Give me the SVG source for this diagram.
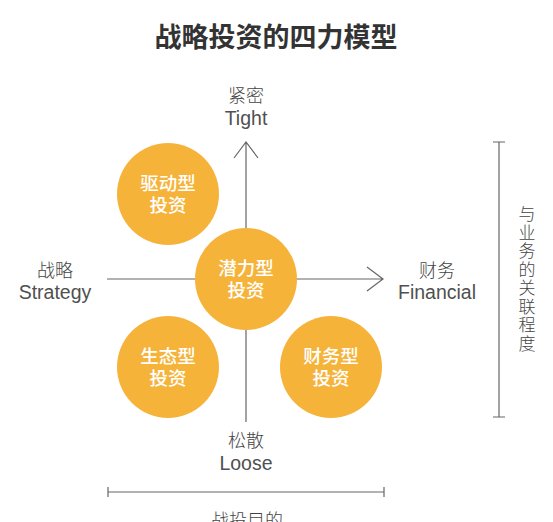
<svg xmlns="http://www.w3.org/2000/svg" width="553" height="522" viewBox="0 0 553 522">
<style>
.t{font-family:"Noto Sans CJK SC","Liberation Sans",sans-serif;fill:#333;text-anchor:middle}
.lbl{font-family:"Liberation Sans","Noto Sans CJK SC",sans-serif;fill:#505050;text-anchor:middle;font-size:19.5px}
.cn{font-family:"Noto Sans CJK SC",sans-serif;fill:#444;text-anchor:middle;font-size:18px;font-weight:300}
.circ{fill:#F6B33A}
.ct{font-family:"Noto Sans CJK SC",sans-serif;fill:#fff;text-anchor:middle;font-size:18.5px;font-weight:500}
.ax{stroke:#666;stroke-width:1.2;fill:none}
.br{stroke:#666;stroke-width:1.2;fill:none}
</style>
<rect width="553" height="522" fill="#fff"/>
<text class="t" x="276" y="47" font-size="27" font-weight="bold">战略投资的四力模型</text>
<g id="connectors">
<path class="ax" d="M246 422 V142 M234 158 L246 142 L258 158"/>
<path class="ax" d="M107 279 H383 M367 267 L383 279 L367 291"/>
<path class="br" d="M499 142 V417 M493 142 H505 M493 417 H505"/>
<path class="br" d="M108 492 H384 M108 487 V497 M384 487 V497"/>
</g>
<g id="tight"><text class="cn" x="246" y="102">紧密</text><text class="lbl" x="246" y="125">Tight</text></g>
<g id="strategy"><text class="cn" x="55" y="277">战略</text><text class="lbl" x="55" y="299">Strategy</text></g>
<g id="financial"><text class="cn" x="437" y="277">财务</text><text class="lbl" x="437" y="299">Financial</text></g>
<g id="loose"><text class="cn" x="246" y="447">松散</text><text class="lbl" x="246" y="470">Loose</text></g>
<g id="purpose"><text class="cn" x="247" y="527">战投目的</text></g>
<g id="relevance"><text class="cn" style="font-size:17px"><tspan x="527" y="220">与</tspan><tspan x="527" y="238.5">业</tspan><tspan x="527" y="257">务</tspan><tspan x="527" y="275.5">的</tspan><tspan x="527" y="294">关</tspan><tspan x="527" y="312.5">联</tspan><tspan x="527" y="331">程</tspan><tspan x="527" y="349.5">度</tspan></text></g>
<g id="drive"><circle class="circ" cx="168" cy="194" r="51"/><text class="ct" x="168" y="190">驱动型</text><text class="ct" x="168" y="212">投资</text></g>
<g id="potential"><circle class="circ" cx="246" cy="279" r="51"/><text class="ct" x="246" y="275">潜力型</text><text class="ct" x="246" y="297">投资</text></g>
<g id="eco"><circle class="circ" cx="168" cy="367" r="51"/><text class="ct" x="168" y="363">生态型</text><text class="ct" x="168" y="385">投资</text></g>
<g id="finance"><circle class="circ" cx="331" cy="367" r="51"/><text class="ct" x="331" y="363">财务型</text><text class="ct" x="331" y="385">投资</text></g>
</svg>
